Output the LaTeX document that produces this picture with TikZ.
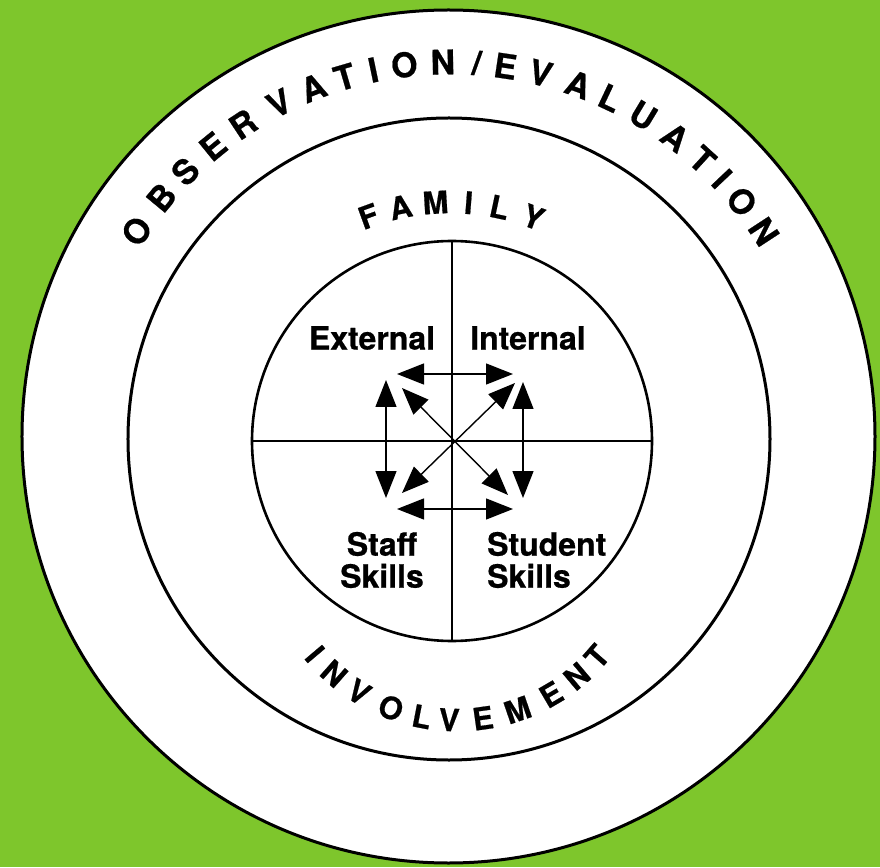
\documentclass[tikz,border=0pt]{standalone}
\usepackage{fontspec}
\setmainfont{TeX Gyre Heros}[BoldFeatures={FakeBold=0.6}]
\usetikzlibrary{arrows.meta}
\definecolor{bggreen}{RGB}{126,198,44}
\newcommand\obsslash{/}
\begin{document}
\begin{tikzpicture}[x=1pt,y=1pt,
  ring/.style={draw=black, line width=3pt, fill=white, circle, inner sep=0pt, outer sep=0pt},
  obsletter/.style={font=\fontsize{34}{34}\selectfont\bfseries, inner sep=0pt},
  famletter/.style={font=\fontsize{31}{31}\selectfont\bfseries, inner sep=0pt},
  label/.style={font=\fontsize{32}{32}\selectfont\bfseries, inner sep=0pt},
  dbl/.style={{Triangle[length=27pt,width=21pt]}-{Triangle[length=27pt,width=21pt]}, line width=1.4pt},
  crossline/.style={line width=2.2pt}
]
\useasboundingbox (-450,-427) rectangle (430,440);
\fill[bggreen] (-450,-427) rectangle (430,440);

\node[ring, minimum size=853pt] (outer) at (-1.5,3.5) {};
\node[ring, minimum size=642pt] (middle) at (-1,1) {};
\node[ring, line width=2.6pt, minimum size=400pt] (inner) at (2,-1) {};

\draw[crossline] (inner.north) -- (inner.south);
\draw[crossline] (inner.west) -- (inner.east);

% OBSERVATION/EVALUATION
\foreach \ch/\ang [count=\i] in {O/146.7,B/140.3,S/134.9,E/129.2,R/123.5,V/117.1,A/111.4,T/106.3,I/101.8,O/97.0,N/91.1,\obsslash/85.9,E/81.5,V/76.0,A/70.0,L/64.7,U/59.0,A/53.1,T/47.7,I/43.5,O/38.9,N/33.2}
  \node[obsletter, rotate=\ang-90] (obs\i) at ([shift={(0,3)}]\ang:375) {\ch};

% FAMILY
\foreach \ch/\ang [count=\i] in {F/110,A/102,M/93.5,I/85.5,L/78,Y/69.5}
  \node[famletter, rotate=\ang-90] (fam\i) at (\ang:238) {\ch};

% INVOLVEMENT
\foreach \ch/\ang [count=\i] in {I/220.2,N/228.6,V/238.2,O/249.2,L/259.1,V/267.6,E/278.0,M/289.0,E/300.4,N/310.1,T/318.8}
  \node[famletter, rotate=\ang+90] (inv\i) at ([shift={(7,-94)}]\ang:186) {\ch};

% quadrant labels
\node[label] (ext) at (-78,102) {External};
\node[label] (int) at (78,102) {Internal};
\node[label, align=center] (staff) at (-68,-120) {Staff\\Skills};
\node[label, align=left, anchor=west] (student) at (37,-120) {Student\\Skills};

% arrows
\coordinate (htl) at (-53,66);  \coordinate (htr) at (63,66);
\coordinate (hbl) at (-53,-69); \coordinate (hbr) at (63,-69);
\coordinate (vlt) at (-64,60);  \coordinate (vlb) at (-64,-58);
\coordinate (vrt) at (73,58);   \coordinate (vrb) at (73,-58);
\coordinate (dnw) at (-48,52);  \coordinate (dse) at (58,-55);
\coordinate (dne) at (65,57);   \coordinate (dsw) at (-48,-53);
\draw[dbl] (htl) -- (htr);
\draw[dbl] (hbl) -- (hbr);
\draw[dbl] (vlt) -- (vlb);
\draw[dbl] (vrt) -- (vrb);
\draw[dbl] (dnw) -- (dse);
\draw[dbl] (dne) -- (dsw);
\end{tikzpicture}
\end{document}
